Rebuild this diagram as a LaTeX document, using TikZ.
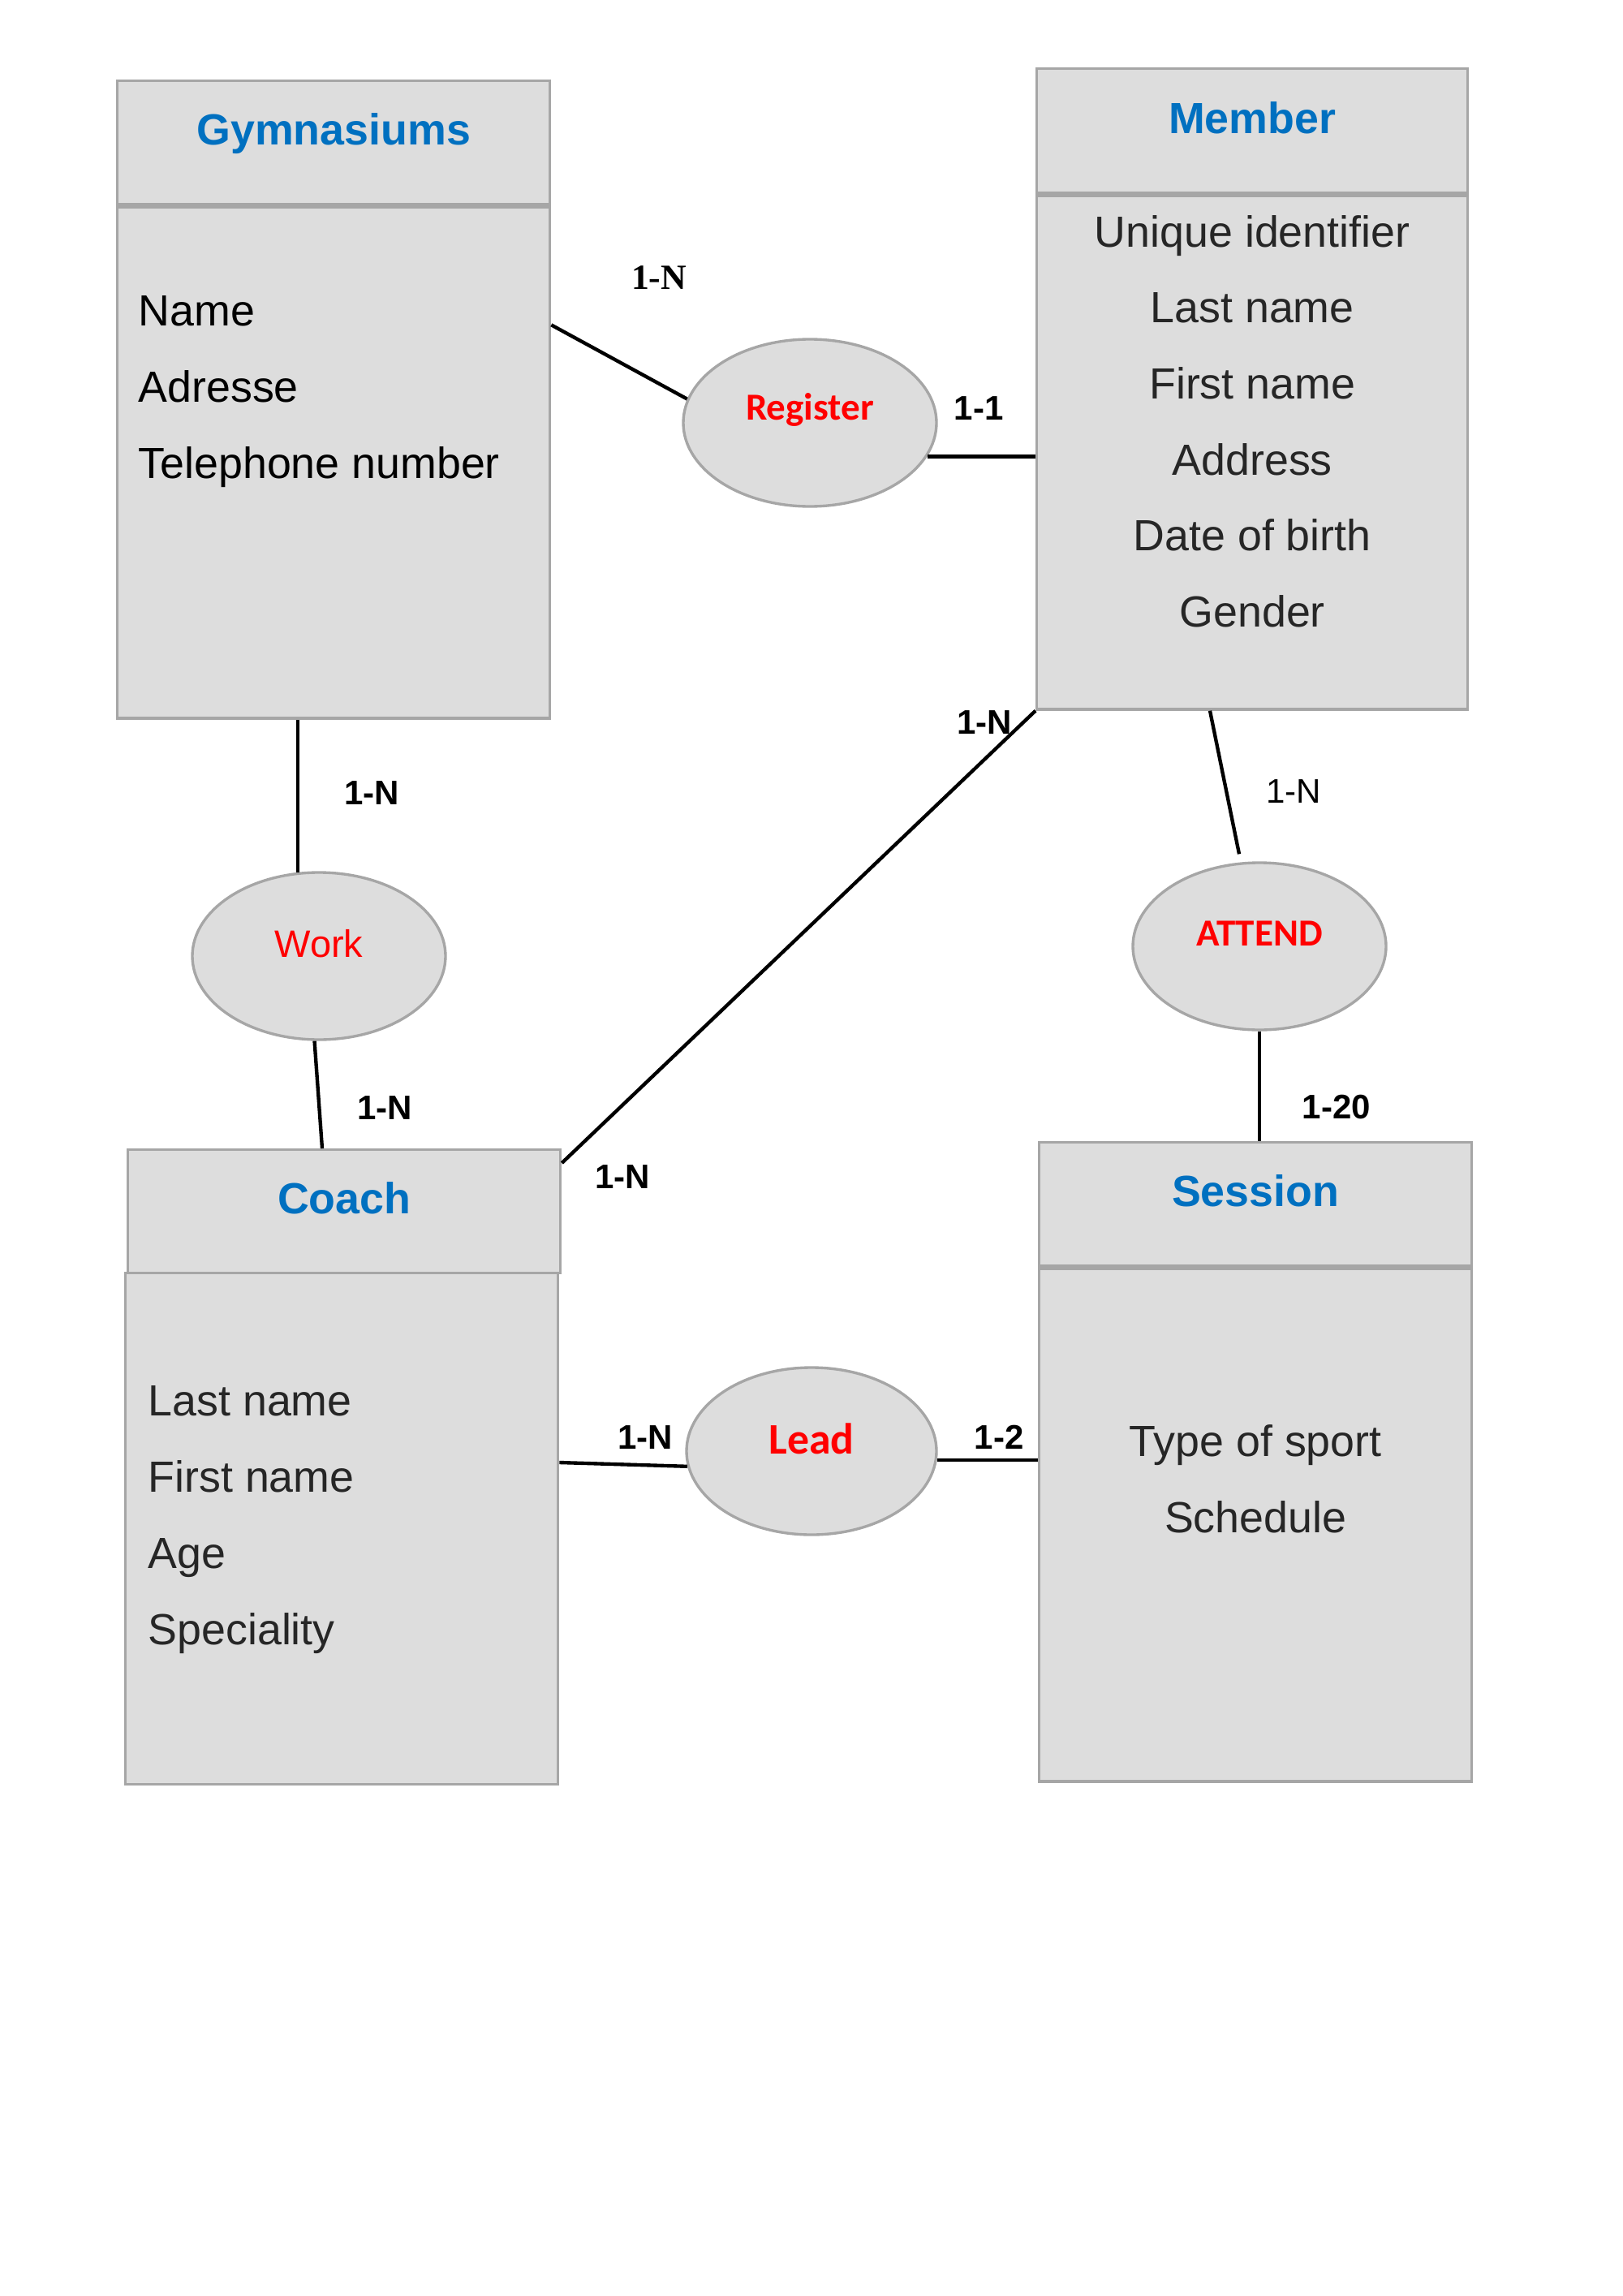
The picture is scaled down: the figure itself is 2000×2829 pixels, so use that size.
\documentclass[tikz,border=0pt]{standalone}
\usepackage{fontspec}
\setmainfont{Liberation Sans}
\newfontfamily\calibrifont{Carlito}
\newfontfamily\timesfont{Liberation Serif}
\usepackage{xcolor}
\usepackage{tikz}
\definecolor{boxfill}{RGB}{221,221,221}
\definecolor{boxgray}{RGB}{166,166,166}
\definecolor{titleblue}{RGB}{0,112,192}
\definecolor{relred}{RGB}{255,0,0}
\definecolor{attrgray}{RGB}{38,38,38}
\usetikzlibrary{shapes.geometric,calc}
\newdimen\pxu \pxu=0.29764pt

\tikzset{
    entbox/.style={draw=boxgray, fill=boxfill, line width=1pt, inner sep=0pt, anchor=north west, minimum width=533\pxu},
    relell/.style={ellipse, draw=boxgray, fill=boxfill, line width=1pt, inner sep=0pt, minimum width=312\pxu, minimum height=206\pxu},
    title/.style={font=\fontsize{16}{19}\selectfont\bfseries, text=titleblue, anchor=base, inner sep=0pt},
    attr/.style={font=\fontsize{16}{19}\selectfont, text=attrgray, anchor=base, inner sep=0pt},
    reltext/.style={font=\calibrifont\fontsize{14}{17}\selectfont\bfseries, text=relred, anchor=base, inner sep=0pt},
    card/.style={font=\fontsize{12.5}{15}\selectfont\bfseries, anchor=base, inner sep=0pt},
    link/.style={line width=1.3pt, black},
}

\begin{document}
\begin{tikzpicture}[x=\pxu, y=-\pxu]
    \useasboundingbox (0,0) rectangle (2000,2829);

    % Entities: header and body
    \node[entbox, minimum height=152\pxu] (gymH) at (143,98) {};
    \node[entbox, minimum height=630\pxu] (gymB) at (gymH.south west) {};
    \node[entbox, minimum width=531\pxu, minimum height=153\pxu] (memH) at (1276,83) {};
    \node[entbox, minimum width=531\pxu, minimum height=633\pxu] (memB) at (memH.south west) {};
    \node[entbox, minimum height=152\pxu] (cH) at (156,1415) {};
    \node[entbox, minimum height=630\pxu] (cB) at (153,1567) {};
    \node[entbox, minimum height=152\pxu] (sesH) at (1279,1406) {};
    \node[entbox, minimum height=632\pxu] (sesB) at (sesH.south west) {};

    \node[title] (gymT) at ($(gymH.north)+(0,81)$) {Gymnasiums};
    \node[title] (memT) at ($(memH.north)+(0,82)$) {Member};
    \node[title] (cT) at ($(cH.north)+(0,80)$) {Coach};
    \node[title] (sesT) at ($(sesH.north)+(0,80)$) {Session};

    % Attributes
    \foreach \t [count=\i from 0] in {Name, Adresse, Telephone number}
        \node[attr, anchor=base west, text=black] (gymA\i) at ($(gymB.north west)+(27,{148+94*\i})$) {\t};
    \foreach \t [count=\i from 0] in {Unique identifier, Last name, First name, Address, Date of birth, Gender}
        \node[attr] (memA\i) at ($(memB.north)+(0,{65+93.6*\i})$) {\t};
    \foreach \t [count=\i from 0] in {Last name, First name, Age, Speciality}
        \node[attr, anchor=base west] (cA\i) at ($(cB.north west)+(29,{177+94*\i})$) {\t};
    \foreach \t [count=\i from 0] in {Type of sport, Schedule}
        \node[attr] (sesA\i) at ($(sesB.north)+(0,{233+94*\i})$) {\t};

    % Relationships
    \node[relell] (reg) at (998,521) {};
    \node[relell] (work) at (393,1178) {};
    \node[relell] (att) at (1552,1166) {};
    \node[relell, minimum width=308\pxu] (lead) at (1000,1788) {};

    \node[reltext] (regT) at ($(reg.center)+(0,-4)$) {Register};
    \node[reltext, font=\fontsize{14}{17}\selectfont] (workT) at ($(work.center)+(0,1)$) {Work};
    \node[reltext] (attT) at ($(att.center)+(0,-1)$) {ATTEND};
    \node[reltext, font=\calibrifont\fontsize{16}{19}\selectfont\bfseries] (leadT) at ($(lead.center)+(0,3)$) {Lead};

    % Connectors
    \draw[link] ($(gymB.north east)+(0,147)$) -- (reg.169);
    \draw[link] (reg.-16) -- (reg.-16 -| memB.west);
    \draw[link] (work.104) -- (work.104 |- gymB.south);
    \draw[link] (work.-93) -- ($(cH.north west)+(241,0)$);
    \draw[link] (memB.south west) -- ($(cH.north east)+(0,18)$);
    \draw[link] ($(memB.south west)+(215,0)$) -- ($(att.north)+(-25,-9)$);
    \draw[link] (att.south) -- (att.south |- sesH.north);
    \draw[link] ($(cB.north east)+(0,235)$) -- (lead.187);
    \draw[link] (lead.-4) -- (lead.-4 -| sesB.west);

    % Cardinalities
    \node[card, font=\timesfont\fontsize{13}{15}\selectfont\bfseries] (cGymReg) at (812,357) {1-N};
    \node[card] (cRegMem) at (1206,517) {1-1};
    \node[card] (cGymWork) at (458,991) {1-N};
    \node[card] (cWorkCoach) at (474,1379) {1-N};
    \node[card] (cMemCoach) at (1213,904) {1-N};
    \node[card] (cCoachMem) at (767,1464) {1-N};
    \node[card, font=\fontsize{12.5}{15}\selectfont] (cMemAtt) at (1594,989) {1-N};
    \node[card] (cAttSes) at (1647,1378) {1-20};
    \node[card] (cCoachLead) at (795,1785) {1-N};
    \node[card] (cLeadSes) at (1231,1785) {1-2};
\end{tikzpicture}
\end{document}
